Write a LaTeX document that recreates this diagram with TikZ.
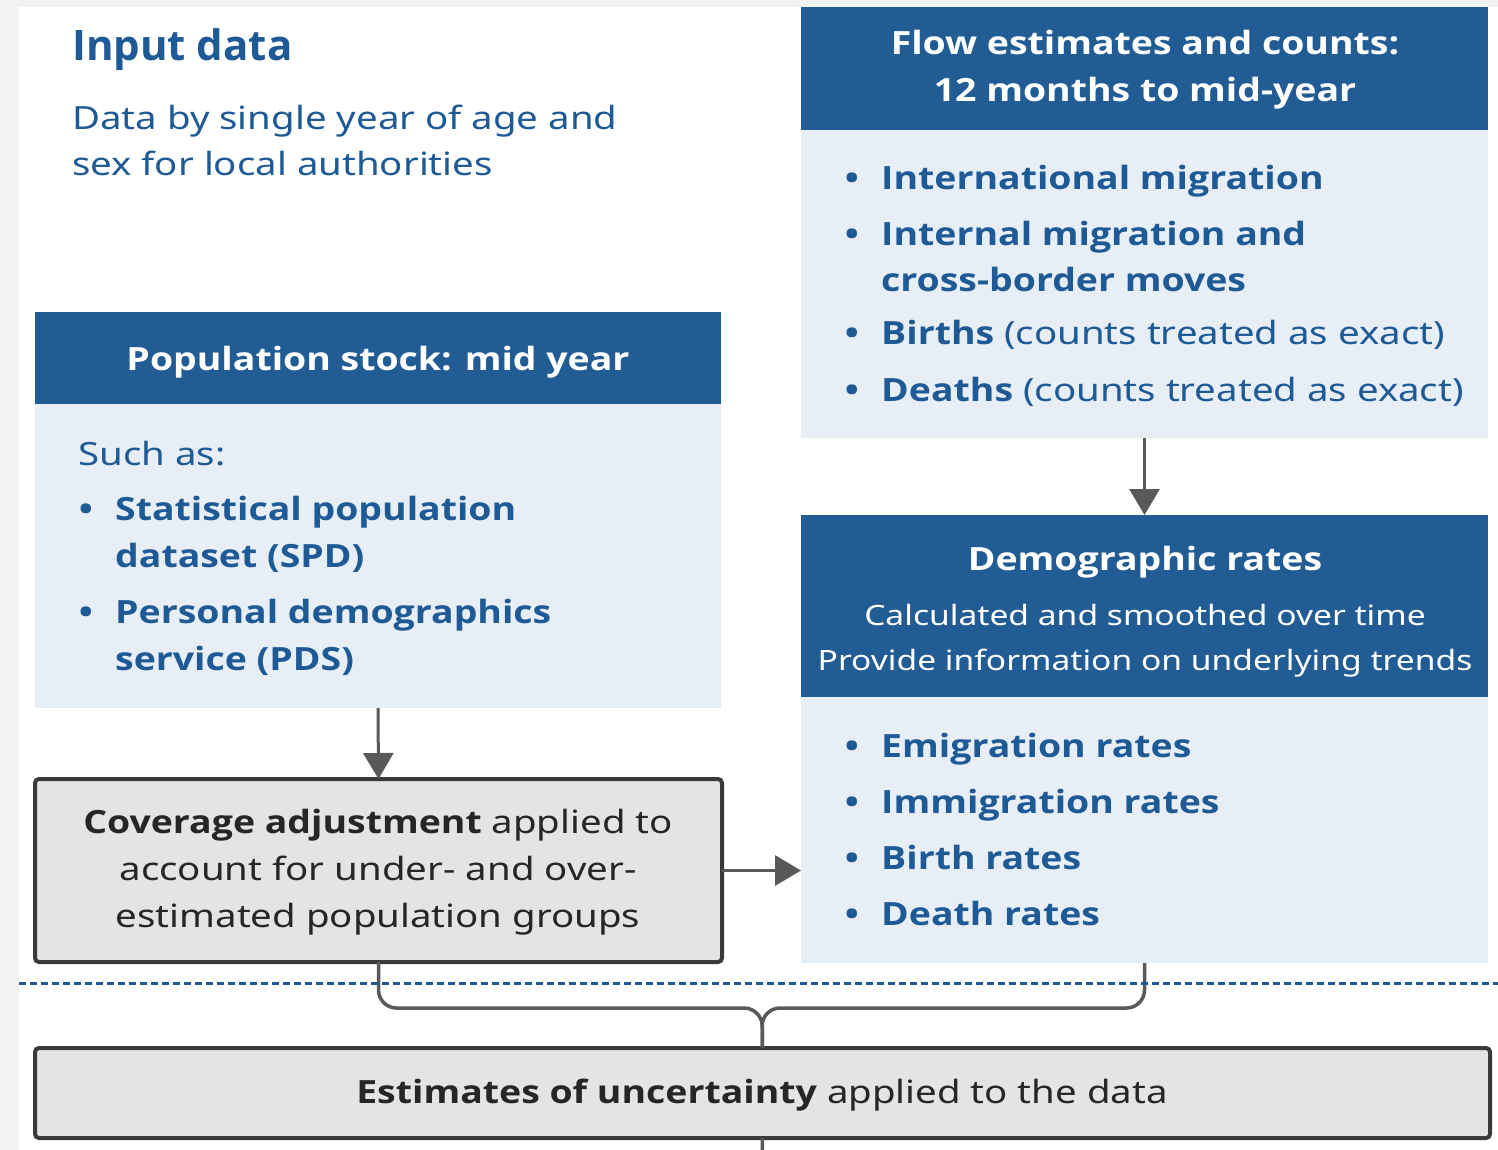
\documentclass[tikz,border=0pt]{standalone}
\usepackage{fontspec}
\setmainfont{Noto Sans}[FakeStretch=1.2,BoldFont={Open Sans Bold},BoldFeatures={FakeStretch=1.17}]
\newfontfamily\headfont{Open Sans Bold}
\usetikzlibrary{arrows.meta}
\definecolor{pagegray}{HTML}{F2F2F2}
\definecolor{navy}{HTML}{215C95}
\definecolor{inkblue}{HTML}{1E5A96}
\definecolor{paleblue}{HTML}{E8EEF6}
\definecolor{boxgray}{HTML}{E4E4E4}
\definecolor{edgegray}{HTML}{3A3A3A}
\definecolor{linkgray}{HTML}{595959}
\begin{document}
\begin{tikzpicture}[x=1pt,y=-1pt,
  panel/.style={anchor=north west,inner sep=0pt,outer sep=0pt},
  hdr/.style={panel,fill=navy},
  body/.style={panel,fill=paleblue},
  greybox/.style={panel,fill=boxgray,draw=edgegray,line width=4pt,rounded corners=4pt},
  line/.style={anchor=base west,inner sep=0pt,text=inkblue,font=\fontsize{32}{38}\selectfont},
  cline/.style={anchor=base,inner sep=0pt,font=\fontsize{32}{38}\selectfont},
  bullet/.style={anchor=base,inner sep=0pt,text=inkblue,font=\fontsize{32}{38}\selectfont\bfseries},
  arr/.style={draw=linkgray,line width=3pt,-{Triangle[width=30pt,length=26pt]}},
  link/.style={draw=linkgray,line width=3.5pt,rounded corners=18pt}
]
\useasboundingbox (0,0) rectangle (1498,1150);
\fill[pagegray] (0,0) rectangle (1498,1150);
\fill[white] (19,7) rectangle (1498,1150);

% ---- input data heading
\node[line,font=\fontsize{42}{48}\headfont] (title) at (72,61) {Input data};
\node[line] (sub1) at (72,130) {Data by single year of age and};
\node[line] (sub2) at (72,176) {sex for local authorities};

% ---- flow estimates panel
\node[hdr,minimum width=687pt,minimum height=123pt] (flowhdr) at (801,7) {};
\node[body,minimum width=687pt,minimum height=308pt] (flowbody) at (801,130) {};
\node[cline,text=white,font=\fontsize{32}{38}\selectfont\bfseries] (fh1) at (1145,55) {Flow estimates and counts:};
\node[cline,text=white,font=\fontsize{32}{38}\selectfont\bfseries] (fh2) at (1145,102) {12 months to mid-year};
\foreach \y/\n in {190/fb1,246/fb2,344/fb3,401/fb4}
  \node[bullet] (\n) at (852,\y) {•};
\node[line] (f1) at (881,190) {\bfseries International migration};
\node[line] (f2) at (881,246) {\bfseries Internal migration and};
\node[line] (f3) at (881,291) {\bfseries cross-border moves};
\node[line] (f4) at (881,344) {{\bfseries Births} (counts treated as exact)};
\node[line] (f5) at (881,401) {{\bfseries Deaths} (counts treated as exact)};

% ---- population stock panel
\node[hdr,minimum width=686pt,minimum height=92pt] (pophdr) at (35,312) {};
\node[body,minimum width=686pt,minimum height=304pt] (popbody) at (35,404) {};
\node[cline,text=white,font=\fontsize{32}{38}\selectfont\bfseries] (ph) at (378,370) {Population stock: mid year};
\node[line] (p0) at (78,465) {Such as:};
\foreach \y/\n in {520/pb1,623/pb2}
  \node[bullet] (\n) at (86,\y) {•};
\node[line] (p1) at (115,520) {\bfseries Statistical population};
\node[line] (p2) at (115,567) {\bfseries dataset (SPD)};
\node[line] (p3) at (115,623) {\bfseries Personal demographics};
\node[line] (p4) at (115,670) {\bfseries service (PDS)};

% ---- demographic rates panel
\node[hdr,minimum width=687pt,minimum height=182pt] (demhdr) at (801,515) {};
\node[body,minimum width=687pt,minimum height=266pt] (dembody) at (801,697) {};
\node[cline,text=white,font=\fontsize{32}{38}\selectfont\bfseries] (dh1) at (1145,570) {Demographic rates};
\node[cline,text=white,font=\fontsize{28}{34}\selectfont] (dh2) at (1145,625) {Calculated and smoothed over time};
\node[cline,text=white,font=\fontsize{28}{34}\selectfont] (dh3) at (1145,670) {Provide information on underlying trends};
\foreach \y/\n/\t in {757/d1/Emigration rates,813/d2/Immigration rates,869/d3/Birth rates,925/d4/Death rates}{
  \node[bullet] (\n b) at (852,\y) {•};
  \node[line] (\n) at (881,\y) {\bfseries \t};
}

% ---- coverage adjustment
\node[greybox,minimum width=687pt,minimum height=183pt] (cover) at (35,779) {};
\node[cline,text=black!85] (c1) at (378,833) {{\bfseries Coverage adjustment} applied to};
\node[cline,text=black!85] (c2) at (378,880) {account for under- and over-};
\node[cline,text=black!85] (c3) at (378,927) {estimated population groups};

% ---- uncertainty
\node[greybox,minimum width=1455pt,minimum height=90pt] (uncert) at (35,1048) {};
\node[cline,text=black!85] (u1) at (762,1103) {{\bfseries Estimates of uncertainty} applied to the data};

% ---- connectors
\draw[arr] (flowbody.south) -- (demhdr.north);
\draw[arr] (popbody.south) -- (cover.north);
\draw[arr] (cover.east) -- (cover.east -| dembody.west);
\coordinate (join) at (762,1008);
\coordinate (tail) at (762,1160);
\draw[link] (cover.south) |- (join) -- (uncert.north);
\draw[link] (dembody.south) |- (join) -- (uncert.north);
\draw[draw=linkgray,line width=3.5pt] (uncert.south) -- (tail);

% ---- dashed divider
\draw[inkblue,line width=3pt,dash pattern=on 7pt off 4pt] (19,983) -- (1498,983);
\end{tikzpicture}
\end{document}
